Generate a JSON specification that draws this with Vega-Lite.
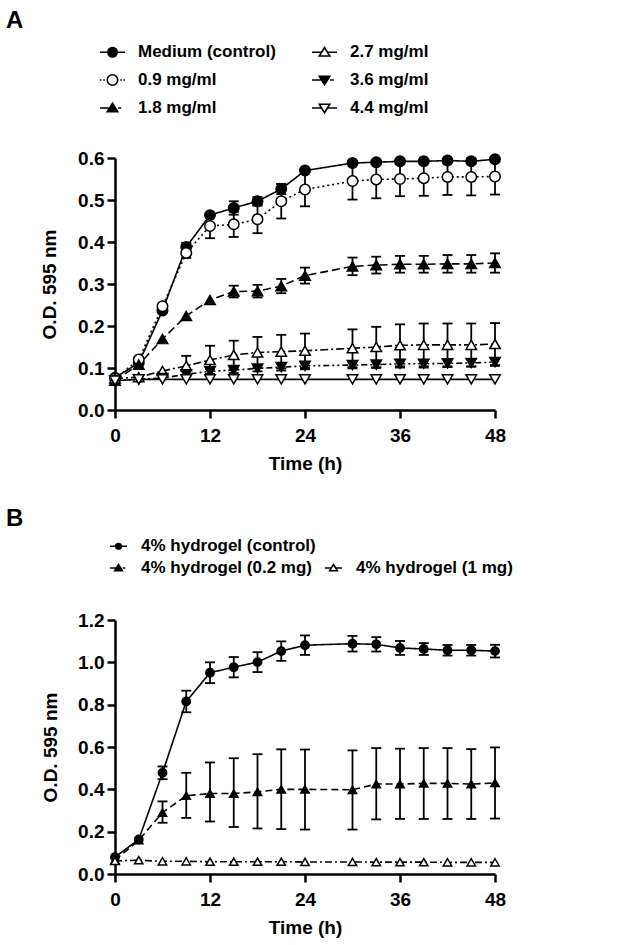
{
"$schema": "https://vega.github.io/schema/vega-lite/v6.json",
"background": "white",
"padding": {"left": 6, "top": 9, "right": 5, "bottom": 5},
"columns": 1,
"spacing": 33,
"resolve": {"scale": {"shape": "independent", "fill": "independent", "strokeDash": "independent", "opacity": "independent", "x": "independent", "y": "independent"}, "legend": {"shape": "independent", "fill": "independent", "strokeDash": "independent", "opacity": "independent"}},
"config": {
  "view": {"stroke": null},
  "font": "Liberation Sans",
  "axis": {"domainColor": "black", "domainWidth": 2.5, "tickColor": "black", "tickWidth": 2.5, "tickSize": 8, "labelFont": "Liberation Sans", "labelFontWeight": "bold", "labelFontSize": 19, "labelColor": "black", "titleFont": "Liberation Sans", "titleFontWeight": "bold", "titleFontSize": 19, "titleColor": "black", "grid": false},
  "axisX": {"labelPadding": 8, "titlePadding": 9, "labelFlush": false},
  "axisY": {"labelPadding": 3},
  "legend": {"labelFont": "Liberation Sans", "labelFontWeight": "bold", "labelFontSize": 17, "labelColor": "black", "labelLimit": 400},
  "title": {"font": "Liberation Sans", "fontWeight": "bold", "fontSize": 24, "color": "black", "anchor": "start", "frame": "group"}
},
"datasets": {
  "a": [
    {"s":"Medium (control)","t":0,"y":0.077},{"s":"Medium (control)","t":3,"y":0.112},{"s":"Medium (control)","t":6,"y":0.237},{"s":"Medium (control)","t":9,"y":0.388,"lo":0.378,"hi":0.398},{"s":"Medium (control)","t":12,"y":0.464},{"s":"Medium (control)","t":15,"y":0.481,"lo":0.465,"hi":0.497},{"s":"Medium (control)","t":18,"y":0.497,"lo":0.487,"hi":0.507},{"s":"Medium (control)","t":21,"y":0.526,"lo":0.514,"hi":0.538},{"s":"Medium (control)","t":24,"y":0.570},{"s":"Medium (control)","t":30,"y":0.588},{"s":"Medium (control)","t":33,"y":0.590},{"s":"Medium (control)","t":36,"y":0.592},{"s":"Medium (control)","t":39,"y":0.592},{"s":"Medium (control)","t":42,"y":0.594},{"s":"Medium (control)","t":45,"y":0.592},{"s":"Medium (control)","t":48,"y":0.597},
    {"s":"0.9 mg/ml","t":0,"y":0.075},{"s":"0.9 mg/ml","t":3,"y":0.120},{"s":"0.9 mg/ml","t":6,"y":0.247},{"s":"0.9 mg/ml","t":9,"y":0.374,"lo":0.362,"hi":0.386},{"s":"0.9 mg/ml","t":12,"y":0.438,"lo":0.409,"hi":0.467},{"s":"0.9 mg/ml","t":15,"y":0.442,"lo":0.412,"hi":0.472},{"s":"0.9 mg/ml","t":18,"y":0.454,"lo":0.421,"hi":0.487},{"s":"0.9 mg/ml","t":21,"y":0.497,"lo":0.456,"hi":0.538},{"s":"0.9 mg/ml","t":24,"y":0.525,"lo":0.485,"hi":0.565},{"s":"0.9 mg/ml","t":30,"y":0.545,"lo":0.501,"hi":0.589},{"s":"0.9 mg/ml","t":33,"y":0.549,"lo":0.504,"hi":0.594},{"s":"0.9 mg/ml","t":36,"y":0.550,"lo":0.509,"hi":0.591},{"s":"0.9 mg/ml","t":39,"y":0.552,"lo":0.510,"hi":0.594},{"s":"0.9 mg/ml","t":42,"y":0.555,"lo":0.512,"hi":0.598},{"s":"0.9 mg/ml","t":45,"y":0.555,"lo":0.511,"hi":0.599},{"s":"0.9 mg/ml","t":48,"y":0.556,"lo":0.513,"hi":0.599},
    {"s":"1.8 mg/ml","t":0,"y":0.070},{"s":"1.8 mg/ml","t":3,"y":0.108},{"s":"1.8 mg/ml","t":6,"y":0.169},{"s":"1.8 mg/ml","t":9,"y":0.224},{"s":"1.8 mg/ml","t":12,"y":0.262},{"s":"1.8 mg/ml","t":15,"y":0.282,"lo":0.268,"hi":0.296},{"s":"1.8 mg/ml","t":18,"y":0.283,"lo":0.268,"hi":0.298},{"s":"1.8 mg/ml","t":21,"y":0.295,"lo":0.278,"hi":0.312},{"s":"1.8 mg/ml","t":24,"y":0.320,"lo":0.301,"hi":0.339},{"s":"1.8 mg/ml","t":30,"y":0.342,"lo":0.321,"hi":0.363},{"s":"1.8 mg/ml","t":33,"y":0.345,"lo":0.325,"hi":0.365},{"s":"1.8 mg/ml","t":36,"y":0.347,"lo":0.327,"hi":0.367},{"s":"1.8 mg/ml","t":39,"y":0.347,"lo":0.327,"hi":0.367},{"s":"1.8 mg/ml","t":42,"y":0.348,"lo":0.327,"hi":0.369},{"s":"1.8 mg/ml","t":45,"y":0.348,"lo":0.327,"hi":0.369},{"s":"1.8 mg/ml","t":48,"y":0.350,"lo":0.327,"hi":0.373},
    {"s":"2.7 mg/ml","t":0,"y":0.075},{"s":"2.7 mg/ml","t":3,"y":0.078},{"s":"2.7 mg/ml","t":6,"y":0.093},{"s":"2.7 mg/ml","t":9,"y":0.105,"lo":0.081,"hi":0.129},{"s":"2.7 mg/ml","t":12,"y":0.119,"lo":0.085,"hi":0.153},{"s":"2.7 mg/ml","t":15,"y":0.131,"lo":0.097,"hi":0.165},{"s":"2.7 mg/ml","t":18,"y":0.137,"lo":0.100,"hi":0.174},{"s":"2.7 mg/ml","t":21,"y":0.139,"lo":0.099,"hi":0.179},{"s":"2.7 mg/ml","t":24,"y":0.141,"lo":0.100,"hi":0.182},{"s":"2.7 mg/ml","t":30,"y":0.147,"lo":0.102,"hi":0.192},{"s":"2.7 mg/ml","t":33,"y":0.150,"lo":0.102,"hi":0.198},{"s":"2.7 mg/ml","t":36,"y":0.154,"lo":0.104,"hi":0.204},{"s":"2.7 mg/ml","t":39,"y":0.155,"lo":0.104,"hi":0.206},{"s":"2.7 mg/ml","t":42,"y":0.155,"lo":0.104,"hi":0.206},{"s":"2.7 mg/ml","t":45,"y":0.155,"lo":0.104,"hi":0.206},{"s":"2.7 mg/ml","t":48,"y":0.157,"lo":0.107,"hi":0.207},
    {"s":"3.6 mg/ml","t":0,"y":0.070},{"s":"3.6 mg/ml","t":3,"y":0.073},{"s":"3.6 mg/ml","t":6,"y":0.076},{"s":"3.6 mg/ml","t":9,"y":0.085},{"s":"3.6 mg/ml","t":12,"y":0.092,"lo":0.086,"hi":0.098},{"s":"3.6 mg/ml","t":15,"y":0.095,"lo":0.088,"hi":0.102},{"s":"3.6 mg/ml","t":18,"y":0.099,"lo":0.092,"hi":0.106},{"s":"3.6 mg/ml","t":21,"y":0.102,"lo":0.094,"hi":0.110},{"s":"3.6 mg/ml","t":24,"y":0.105,"lo":0.097,"hi":0.113},{"s":"3.6 mg/ml","t":30,"y":0.107,"lo":0.099,"hi":0.115},{"s":"3.6 mg/ml","t":33,"y":0.108,"lo":0.100,"hi":0.116},{"s":"3.6 mg/ml","t":36,"y":0.110,"lo":0.101,"hi":0.119},{"s":"3.6 mg/ml","t":39,"y":0.110,"lo":0.101,"hi":0.119},{"s":"3.6 mg/ml","t":42,"y":0.111,"lo":0.102,"hi":0.120},{"s":"3.6 mg/ml","t":45,"y":0.112,"lo":0.103,"hi":0.121},{"s":"3.6 mg/ml","t":48,"y":0.114,"lo":0.105,"hi":0.123},
    {"s":"4.4 mg/ml","t":0,"y":0.070},{"s":"4.4 mg/ml","t":3,"y":0.073},{"s":"4.4 mg/ml","t":6,"y":0.073},{"s":"4.4 mg/ml","t":9,"y":0.073},{"s":"4.4 mg/ml","t":12,"y":0.073},{"s":"4.4 mg/ml","t":15,"y":0.073},{"s":"4.4 mg/ml","t":18,"y":0.073},{"s":"4.4 mg/ml","t":21,"y":0.073},{"s":"4.4 mg/ml","t":24,"y":0.073},{"s":"4.4 mg/ml","t":30,"y":0.073},{"s":"4.4 mg/ml","t":33,"y":0.073},{"s":"4.4 mg/ml","t":36,"y":0.073},{"s":"4.4 mg/ml","t":39,"y":0.073},{"s":"4.4 mg/ml","t":42,"y":0.073},{"s":"4.4 mg/ml","t":45,"y":0.073},{"s":"4.4 mg/ml","t":48,"y":0.073}
  ],
  "b": [
    {"s":"4% hydrogel (control)","t":0,"y":0.080},{"s":"4% hydrogel (control)","t":3,"y":0.163},{"s":"4% hydrogel (control)","t":6,"y":0.478,"lo":0.448,"hi":0.508},{"s":"4% hydrogel (control)","t":9,"y":0.815,"lo":0.764,"hi":0.866},{"s":"4% hydrogel (control)","t":12,"y":0.951,"lo":0.902,"hi":1.000},{"s":"4% hydrogel (control)","t":15,"y":0.977,"lo":0.929,"hi":1.025},{"s":"4% hydrogel (control)","t":18,"y":1.001,"lo":0.954,"hi":1.048},{"s":"4% hydrogel (control)","t":21,"y":1.053,"lo":1.007,"hi":1.099},{"s":"4% hydrogel (control)","t":24,"y":1.081,"lo":1.035,"hi":1.127},{"s":"4% hydrogel (control)","t":30,"y":1.088,"lo":1.051,"hi":1.125},{"s":"4% hydrogel (control)","t":33,"y":1.085,"lo":1.051,"hi":1.119},{"s":"4% hydrogel (control)","t":36,"y":1.068,"lo":1.035,"hi":1.101},{"s":"4% hydrogel (control)","t":39,"y":1.063,"lo":1.035,"hi":1.091},{"s":"4% hydrogel (control)","t":42,"y":1.057,"lo":1.032,"hi":1.082},{"s":"4% hydrogel (control)","t":45,"y":1.057,"lo":1.032,"hi":1.082},{"s":"4% hydrogel (control)","t":48,"y":1.053,"lo":1.023,"hi":1.083},
    {"s":"4% hydrogel (0.2 mg)","t":0,"y":0.065},{"s":"4% hydrogel (0.2 mg)","t":3,"y":0.160},{"s":"4% hydrogel (0.2 mg)","t":6,"y":0.290,"lo":0.242,"hi":0.343},{"s":"4% hydrogel (0.2 mg)","t":9,"y":0.370,"lo":0.265,"hi":0.478},{"s":"4% hydrogel (0.2 mg)","t":12,"y":0.380,"lo":0.248,"hi":0.527},{"s":"4% hydrogel (0.2 mg)","t":15,"y":0.380,"lo":0.222,"hi":0.547},{"s":"4% hydrogel (0.2 mg)","t":18,"y":0.388,"lo":0.215,"hi":0.566},{"s":"4% hydrogel (0.2 mg)","t":21,"y":0.400,"lo":0.212,"hi":0.589},{"s":"4% hydrogel (0.2 mg)","t":24,"y":0.400,"lo":0.210,"hi":0.588},{"s":"4% hydrogel (0.2 mg)","t":30,"y":0.398,"lo":0.210,"hi":0.584},{"s":"4% hydrogel (0.2 mg)","t":33,"y":0.425,"lo":0.258,"hi":0.595},{"s":"4% hydrogel (0.2 mg)","t":36,"y":0.425,"lo":0.260,"hi":0.592},{"s":"4% hydrogel (0.2 mg)","t":39,"y":0.428,"lo":0.260,"hi":0.595},{"s":"4% hydrogel (0.2 mg)","t":42,"y":0.428,"lo":0.260,"hi":0.595},{"s":"4% hydrogel (0.2 mg)","t":45,"y":0.425,"lo":0.260,"hi":0.590},{"s":"4% hydrogel (0.2 mg)","t":48,"y":0.430,"lo":0.262,"hi":0.598},
    {"s":"4% hydrogel (1 mg)","t":0,"y":0.062},{"s":"4% hydrogel (1 mg)","t":3,"y":0.065},{"s":"4% hydrogel (1 mg)","t":6,"y":0.060},{"s":"4% hydrogel (1 mg)","t":9,"y":0.060},{"s":"4% hydrogel (1 mg)","t":12,"y":0.058},{"s":"4% hydrogel (1 mg)","t":15,"y":0.058},{"s":"4% hydrogel (1 mg)","t":18,"y":0.058},{"s":"4% hydrogel (1 mg)","t":21,"y":0.058},{"s":"4% hydrogel (1 mg)","t":24,"y":0.057},{"s":"4% hydrogel (1 mg)","t":30,"y":0.057},{"s":"4% hydrogel (1 mg)","t":33,"y":0.056},{"s":"4% hydrogel (1 mg)","t":36,"y":0.056},{"s":"4% hydrogel (1 mg)","t":39,"y":0.056},{"s":"4% hydrogel (1 mg)","t":42,"y":0.055},{"s":"4% hydrogel (1 mg)","t":45,"y":0.055},{"s":"4% hydrogel (1 mg)","t":48,"y":0.055}
  ]
},
"concat": [
  {
    "title": {"text": "A", "dx": -109, "offset": 5.5},
    "width": 380, "height": 252,
    "data": {"name": "a"},
    "encoding": {"x": {"field": "t", "type": "quantitative", "title": "Time (h)", "scale": {"domain": [0, 48], "nice": false}, "axis": {"values": [0, 12, 24, 36, 48]}}},
    "layer": [
      {"mark": {"type": "line", "color": "black", "strokeWidth": 1.6},
       "encoding": {
         "y": {"field": "y", "type": "quantitative", "title": "O.D. 595 nm", "scale": {"domain": [0, 0.6], "nice": false}, "axis": {"values": [0, 0.1, 0.2, 0.3, 0.4, 0.5, 0.6], "format": ".1f", "titlePadding": 18}},
         "strokeDash": {"field": "s", "type": "nominal", "legend": null, "scale": {"domain": ["4.4 mg/ml", "3.6 mg/ml", "2.7 mg/ml", "1.8 mg/ml", "0.9 mg/ml", "Medium (control)"], "range": [[1, 0], [6, 3, 2, 3, 2, 3], [8, 3, 2, 3], [8, 4], [2, 3], [1, 0]]}}
       }},
      {"transform": [{"filter": "isValid(datum.lo)"}],
       "mark": {"type": "rule", "color": "black", "strokeWidth": 1.8},
       "encoding": {"y": {"field": "lo", "type": "quantitative", "title": "O.D. 595 nm"}, "y2": {"field": "hi"}}},
      {"transform": [{"filter": "isValid(datum.lo)"}],
       "mark": {"type": "tick", "orient": "horizontal", "color": "black", "size": 10, "thickness": 1.8, "opacity": 1},
       "encoding": {"y": {"field": "lo", "type": "quantitative", "title": "O.D. 595 nm"}}},
      {"transform": [{"filter": "isValid(datum.hi)"}],
       "mark": {"type": "tick", "orient": "horizontal", "color": "black", "size": 10, "thickness": 1.8, "opacity": 1},
       "encoding": {"y": {"field": "hi", "type": "quantitative", "title": "O.D. 595 nm"}}},
      {"mark": {"type": "point", "filled": true, "stroke": "black", "strokeWidth": 1.5, "size": 110},
       "encoding": {
         "y": {"field": "y", "type": "quantitative", "title": "O.D. 595 nm"},
         "fill": {"field": "s", "type": "nominal", "legend": null, "scale": {"domain": ["4.4 mg/ml", "3.6 mg/ml", "2.7 mg/ml", "1.8 mg/ml", "0.9 mg/ml", "Medium (control)"], "range": ["white", "black", "white", "black", "white", "black"]}},
         "shape": {"field": "s", "type": "nominal", "legend": null, "scale": {"domain": ["4.4 mg/ml", "3.6 mg/ml", "2.7 mg/ml", "1.8 mg/ml", "0.9 mg/ml", "Medium (control)"], "range": ["triangle-down", "triangle-down", "triangle-up", "triangle-up", "circle", "circle"]}},
         "opacity": {"field": "s", "type": "nominal",
           "scale": {"domain": ["Medium (control)", "0.9 mg/ml", "1.8 mg/ml", "2.7 mg/ml", "3.6 mg/ml", "4.4 mg/ml"], "range": [1, 1]},
           "legend": {"title": null, "orient": "none", "legendX": -16, "legendY": -119.5, "columns": 2, "columnPadding": 32, "rowPadding": 6, "symbolSize": 625, "labelOffset": 12,
             "symbolType": {"expr": "datum.value === 'Medium (control)' ? 'M-1,0L1,0M-0.38,0A0.38,0.38 0 1,0 0.38,0A0.38,0.38 0 1,0 -0.38,0Z' : datum.value === '0.9 mg/ml' ? 'M-1,0L-0.88,0M-0.74,0L-0.62,0M0.62,0L0.74,0M0.88,0L1,0M-0.42,0A0.42,0.42 0 1,0 0.42,0A0.42,0.42 0 1,0 -0.42,0Z' : datum.value === '1.8 mg/ml' ? 'M-1,0L-0.3,0M0.45,0L0.7,0M0,-0.38L0.42,0.3L-0.42,0.3Z' : datum.value === '2.7 mg/ml' ? 'M-1,0L-0.26,0M0.26,0L1,0M0,-0.38L0.42,0.3L-0.42,0.3Z' : datum.value === '3.6 mg/ml' ? 'M-1,0L-0.3,0M0.45,0L0.75,0M0,0.38L0.42,-0.3L-0.42,-0.3Z' : 'M-1,0L-0.26,0M0.26,0L1,0M0,0.38L0.42,-0.3L-0.42,-0.3Z'"},
             "symbolFillColor": {"expr": "indexof(['Medium (control)', '1.8 mg/ml', '3.6 mg/ml'], datum.value) >= 0 ? 'black' : 'white'"},
             "symbolStrokeColor": "black",
             "symbolStrokeWidth": 1.6,
             "symbolOpacity": 1
           }}
       }}
    ]
  },
  {
    "title": {"text": "B", "dx": -109, "offset": 6},
    "width": 380, "height": 254,
    "data": {"name": "b"},
    "encoding": {"x": {"field": "t", "type": "quantitative", "title": "Time (h)", "scale": {"domain": [0, 48], "nice": false}, "axis": {"values": [0, 12, 24, 36, 48]}}},
    "layer": [
      {"mark": {"type": "line", "color": "black", "strokeWidth": 1.6},
       "encoding": {
         "y": {"field": "y", "type": "quantitative", "title": "O.D. 595 nm", "scale": {"domain": [0, 1.2], "nice": false}, "axis": {"values": [0, 0.2, 0.4, 0.6, 0.8, 1.0, 1.2], "format": ".1f", "titlePadding": 17}},
         "strokeDash": {"field": "s", "type": "nominal", "legend": null, "scale": {"domain": ["4% hydrogel (control)", "4% hydrogel (0.2 mg)", "4% hydrogel (1 mg)"], "range": [[1, 0], [7, 4], [7, 3, 2, 3]]}}
       }},
      {"transform": [{"filter": "isValid(datum.lo)"}],
       "mark": {"type": "rule", "color": "black", "strokeWidth": 1.8},
       "encoding": {"y": {"field": "lo", "type": "quantitative", "title": "O.D. 595 nm"}, "y2": {"field": "hi"}}},
      {"transform": [{"filter": "isValid(datum.lo)"}],
       "mark": {"type": "tick", "orient": "horizontal", "color": "black", "size": 10, "thickness": 1.8, "opacity": 1},
       "encoding": {"y": {"field": "lo", "type": "quantitative", "title": "O.D. 595 nm"}}},
      {"transform": [{"filter": "isValid(datum.hi)"}],
       "mark": {"type": "tick", "orient": "horizontal", "color": "black", "size": 10, "thickness": 1.8, "opacity": 1},
       "encoding": {"y": {"field": "hi", "type": "quantitative", "title": "O.D. 595 nm"}}},
      {"mark": {"type": "point", "filled": true, "stroke": "black", "strokeWidth": 1.5, "size": 70},
       "encoding": {
         "y": {"field": "y", "type": "quantitative", "title": "O.D. 595 nm"},
         "fill": {"field": "s", "type": "nominal", "legend": null, "scale": {"domain": ["4% hydrogel (control)", "4% hydrogel (0.2 mg)", "4% hydrogel (1 mg)"], "range": ["black", "black", "white"]}},
         "shape": {"field": "s", "type": "nominal", "legend": null, "scale": {"domain": ["4% hydrogel (control)", "4% hydrogel (0.2 mg)", "4% hydrogel (1 mg)"], "range": ["circle", "triangle-up", "triangle-up"]}},
         "opacity": {"field": "s", "type": "nominal",
           "scale": {"domain": ["4% hydrogel (control)", "4% hydrogel (0.2 mg)", "", "4% hydrogel (1 mg)"], "range": [1, 1]},
           "legend": {"title": null, "orient": "none", "legendX": -6, "legendY": -83.5, "columns": 2, "columnPadding": 5, "rowPadding": 4, "symbolSize": 289, "labelOffset": 13,
             "symbolType": {"expr": "datum.value === '4% hydrogel (control)' ? 'M-1,0L1,0M-0.33,0A0.33,0.33 0 1,0 0.33,0A0.33,0.33 0 1,0 -0.33,0Z' : datum.value === '4% hydrogel (0.2 mg)' ? 'M-1,0L-0.3,0M0.5,0L0.8,0M0,-0.42L0.45,0.32L-0.45,0.32Z' : datum.value === '4% hydrogel (1 mg)' ? 'M-1,0L-0.28,0M0.28,0L1,0M0,-0.42L0.45,0.32L-0.45,0.32Z' : 'M0,0'"},
             "symbolFillColor": {"expr": "datum.value === '4% hydrogel (1 mg)' ? 'white' : 'black'"},
             "symbolStrokeColor": "black",
             "symbolStrokeWidth": 1.6,
             "symbolOpacity": 1
           }}
       }}
    ]
  }
]
}
